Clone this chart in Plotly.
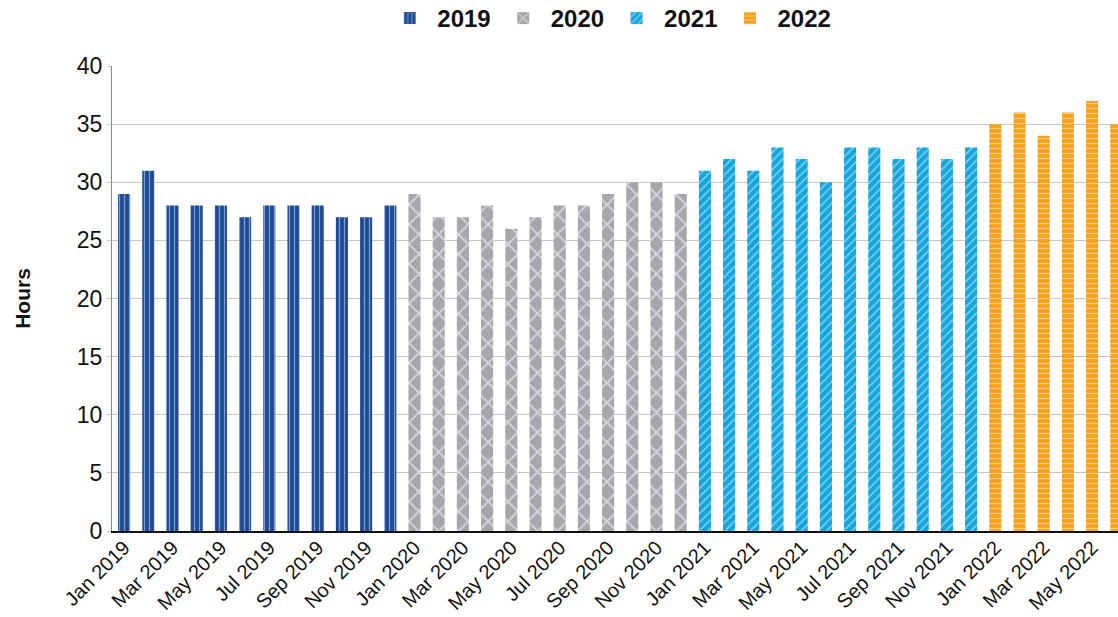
import plotly.graph_objects as go

months = ["Jan", "Feb", "Mar", "Apr", "May", "Jun", "Jul", "Aug", "Sep", "Oct", "Nov", "Dec"]
years = ["2019", "2020", "2021", "2022"]
hours_2019 = [29, 31, 28, 28, 28, 27, 28, 28, 28, 27, 27, 28]
hours_2020 = [29, 27, 27, 28, 26, 27, 28, 28, 29, 30, 30, 29]
hours_2021 = [31, 32, 31, 33, 32, 30, 33, 33, 32, 33, 32, 33]
hours_2022 = [35, 36, 34, 36, 37, 35]
series = [hours_2019, hours_2020, hours_2021, hours_2022]

colors = ["#1d4a92", "#a7a6ab", "#14a5dc", "#f5a11c"]
fgcolors = ["#8fb0dc", "#dfe3ee", "#9fdcf3", "#fbd69a"]
shapes = ["|", "x", "/", "-"]
sizes = [5, 14, 6, 5]

all_labels = []
fig = go.Figure()
for yr, vals, c, fg, sh, sz in zip(years, series, colors, fgcolors, shapes, sizes):
    labels = [f"{m} {yr}" for m in months[:len(vals)]]
    all_labels += labels
    fig.add_trace(go.Bar(
        x=labels, y=vals, name=yr, width=0.5,
        marker=dict(color=c, line=dict(width=0),
                    pattern=dict(shape=sh, fgcolor=fg, fgopacity=0.8, size=sz,
                                 solidity=0.25, fillmode="overlay")),
    ))

font_narrow = "Liberation Sans Narrow, Arial Narrow, Liberation Sans, Arial"
fig.update_layout(
    width=1118, height=617,
    margin=dict(l=112, r=0, t=66, b=86, autoexpand=False),
    paper_bgcolor="white", plot_bgcolor="white",
    barmode="overlay",
    showlegend=True,
    legend=dict(orientation="h", x=0.545, xanchor="center", xref="container",
                y=0.97, yanchor="middle", yref="container",
                font=dict(family="Liberation Sans, Arial", size=24, color="#111", weight="bold"),
                itemwidth=45, traceorder="normal"),
    xaxis=dict(
        type="category", categoryorder="array", categoryarray=all_labels,
        range=[-0.5, 41.07], automargin=False,
        tickmode="array", tickvals=all_labels[::2], ticktext=all_labels[::2],
        tickangle=-45, tickfont=dict(family=font_narrow, size=20, color="#111"),
        ticklabelstandoff=-5,
        showline=True, linecolor="#111", linewidth=2, ticks="", showgrid=False,
    ),
    yaxis=dict(
        range=[0, 40], dtick=5, tick0=0, automargin=False,
        tickfont=dict(family=font_narrow, size=23, color="#111"),
        showgrid=True, gridcolor="#c9c5c8", gridwidth=1,
        showline=True, linecolor="#888", linewidth=1,
        ticks="outside", ticklen=4, tickcolor="#c9c5c8",
        zeroline=False,
        title=dict(text="<b>Hours</b>", font=dict(family="Liberation Sans, Arial", size=21, color="#111"),
                   standoff=40),
    ),
)
fig.write_html("out.html")
